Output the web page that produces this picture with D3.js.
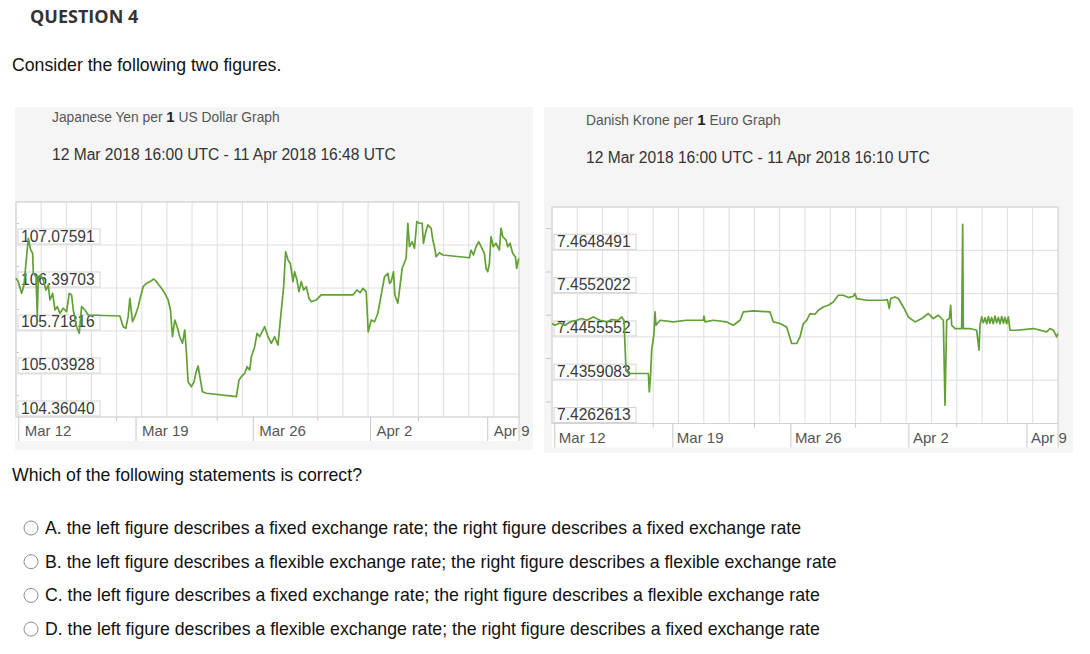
<!DOCTYPE html>
<html>
<head>
<meta charset="utf-8">
<title>Question 4</title>
<script src="https://d3js.org/d3.v7.min.js"></script>
<style>
body { margin: 0; background: #fff; }
svg text { font-family: Arial, "Liberation Sans", sans-serif; }
</style>
</head>
<body>
<div id="wrapper"></div>
<script>
// [days since 12 Mar 2018 16:00 UTC, rate]
var yenSeries = [[0,106.550],[0.139,106.497],[0.338,106.313],[0.477,106.444],[0.596,106.792],[0.735,107.182],[0.875,106.997],[0.994,106.945],[1.034,106.629],[1.193,106.575],
  [1.272,105.944],[1.332,106.575],[1.471,106.602],[1.630,106.523],[1.789,106.365],[1.928,106.444],[2.027,106.208],[2.187,106.313],[2.326,106.050],[2.465,106.102],
  [2.624,105.998],[2.823,106.077],[3.021,106.023],[3.180,106.313],[3.320,106.287],[3.419,106.050],[3.618,105.786],[3.777,105.682],[3.916,106.102],[4.115,106.050],
  [4.313,105.971],[6.202,105.955],[6.400,105.786],[6.559,105.761],[6.698,105.944],[6.798,106.234],[6.957,105.865],[7.096,105.944],[7.295,106.102],[7.434,106.260],
  [7.593,106.418],[7.792,106.471],[7.991,106.497],[8.229,106.539],[8.388,106.497],[8.686,106.392],[8.885,106.313],[9.084,106.208],[9.223,106.050],[9.342,105.628],
  [9.481,105.892],[9.620,105.786],[9.779,105.628],[9.938,105.524],[10.077,105.734],[10.177,105.366],[10.276,104.918],[10.475,104.839],[10.634,104.918],[10.733,105.050],
  [10.873,105.166],[11.012,104.945],[11.131,104.760],[11.370,104.735],[13.158,104.681],[13.317,104.945],[13.457,104.997],[13.655,105.050],[13.795,105.155],[13.954,105.102],
  [14.053,105.313],[14.252,105.470],[14.391,105.682],[14.550,105.628],[14.848,105.786],[15.047,105.628],[15.246,105.524],[15.444,105.628],
  [15.643,105.497],[15.842,106.050],[15.981,106.418],[16.100,106.970],[16.239,106.839],[16.378,106.787],[16.537,106.497],[16.637,106.654],[16.776,106.523],[16.895,106.339],
  [17.034,106.497],[17.174,106.365],[17.333,106.418],[17.491,106.234],[17.631,106.181],[17.929,106.208],[18.227,106.287],[20.115,106.287],[20.354,106.365],[20.552,106.323],
  [20.711,106.392],[20.910,106.339],[21.030,105.707],[21.209,105.892],[21.407,105.865],[21.606,105.998],[21.805,106.287],[22.004,106.575],[22.202,106.629],[22.302,106.471],
  [22.401,106.497],[22.540,106.654],[22.620,106.287],[22.799,106.156],[22.898,106.365],[23.057,106.708],[23.296,106.866],[23.395,107.419],[23.494,107.049],[23.653,107.128],
  [23.792,107.024],[23.932,107.444],[24.091,107.419],[24.250,107.419],[24.329,107.103],[24.449,107.261],[24.588,107.392],[24.787,107.340],[24.886,107.155],[24.985,107.049],
  [25.085,106.891],[25.283,106.954],[25.482,106.918],[27.072,106.875],[27.172,106.997],[27.311,106.918],[27.470,107.049],[27.629,107.128],[27.768,107.049],[27.967,106.945],
  [28.066,106.708],[28.165,106.654],[28.265,106.787],[28.364,107.207],[28.503,107.049],[28.662,107.103],[28.861,106.997],[28.961,107.340],[29.060,107.207],[29.259,107.155],
  [29.358,107.049],[29.497,107.103],[29.656,106.945],[29.815,106.891],[29.895,106.708],[30.014,106.866]];

var dkkSeries = [[0,7.44853],[0.178,7.44815],[0.474,7.44866],[0.771,7.44815],[1.067,7.44889],[1.463,7.44926],[1.759,7.44964],[2.056,7.44926],[2.451,7.45000],[2.846,7.44926],
  [3.242,7.44889],[3.538,7.44942],[3.934,7.44926],[4.131,7.45000],[4.270,7.44926],[4.388,7.43813],[4.527,7.43740],[5.219,7.43740],[5.713,7.43740],[5.772,7.43330],
  [5.851,7.43740],[5.911,7.44259],[6.049,7.44630],[6.108,7.45111],[6.167,7.44815],[6.405,7.44926],[7.195,7.44889],[7.986,7.44926],[8.974,7.44926],[9.014,7.45016],
  [9.073,7.44889],[9.567,7.44926],[10.358,7.44889],[10.753,7.44815],[11.149,7.44926],[11.346,7.45111],[11.939,7.45134],[12.928,7.45111],[13.125,7.44889],[13.521,7.44853],
  [13.916,7.44777],[14.213,7.44408],[14.509,7.44408],[14.707,7.44555],[14.904,7.44853],[15.102,7.44926],[15.300,7.45076],[15.596,7.45060],[15.794,7.45149],[16.090,7.45223],
  [16.387,7.45260],[16.683,7.45334],[16.980,7.45483],[17.276,7.45483],[17.573,7.45432],[17.869,7.45461],[17.968,7.45521],[18.067,7.45410],[18.660,7.45372],[19.649,7.45372],
  [19.886,7.45387],[20.004,7.45187],[20.083,7.45410],[20.340,7.45445],[20.538,7.45410],[20.835,7.45223],[21.131,7.45000],[21.527,7.44889],[21.922,7.44964],[22.317,7.45076],
  [22.614,7.44964],[22.910,7.45038],[23.207,7.44926],[23.306,7.43034],[23.405,7.44926],[23.563,7.44964],[23.642,7.45260],[23.701,7.44815],[23.899,7.44742],[24.294,7.44742],
  [24.354,7.47064],[24.393,7.44742],[24.788,7.44742],[25.184,7.44704],[25.322,7.44259],[25.381,7.44815],[25.480,7.45000],[25.580,7.44870],[25.680,7.44980],[25.780,7.44850],
  [25.880,7.45010],[25.970,7.44860],[26.070,7.44990],[26.170,7.44850],[26.270,7.45020],[26.370,7.44870],[26.470,7.44990],[26.570,7.44850],[26.670,7.45010],[26.770,7.44860],
  [26.860,7.44990],[26.960,7.44850],[27.060,7.45000],[27.160,7.44704],[27.556,7.44704],[28.544,7.44742],[29.335,7.44666],[29.532,7.44742],[29.730,7.44704],[29.927,7.44555],
  [30.0,7.44630]];

var yenTicks = [107.07591, 106.39703, 105.71816, 105.03928, 104.36040];
var dkkTicks = [7.4648491, 7.4552022, 7.4455552, 7.4359083, 7.4262613];
var weekLabels = ["Mar 12", "Mar 19", "Mar 26", "Apr 2", "Apr 9"];

var answers = [
  "A. the left figure describes a fixed exchange rate; the right figure describes a fixed exchange rate",
  "B. the left figure describes a flexible exchange rate; the right figure describes a flexible exchange rate",
  "C. the left figure describes a fixed exchange rate; the right figure describes a flexible exchange rate",
  "D. the left figure describes a flexible exchange rate; the right figure describes a fixed exchange rate"
];

var width = 1090, height = 654;
var start = Date.UTC(2018, 2, 12, 16, 0);
var DAY = 864e5;

var svg = d3.select("#wrapper").append("svg")
    .attr("width", width)
    .attr("height", height);

svg.append("rect").attr("width", width).attr("height", height).attr("fill", "#fff");

// question text
svg.append("text")
    .attr("x", 30).attr("y", 23)
    .style("font-family", "'Open Sans', sans-serif")
    .style("font-weight", "bold")
    .style("font-size", "18px")
    .attr("fill", "#333")
    .text("QUESTION 4");

svg.append("text")
    .attr("x", 12).attr("y", 71)
    .style("font-size", "17.7px")
    .attr("fill", "#111")
    .text("Consider the following two figures.");

svg.append("text")
    .attr("x", 12).attr("y", 481)
    .style("font-size", "17.7px")
    .attr("fill", "#111")
    .text("Which of the following statements is correct?");

var opt = svg.selectAll("g.opt")
    .data(answers)
    .enter()
    .append("g")
    .attr("class", "opt")
    .attr("transform", function(d, i) { return "translate(0," + (528 + i * 33.7) + ")"; });

opt.append("circle")
    .attr("cx", 31).attr("cy", 0).attr("r", 7)
    .attr("fill", "#fff").attr("stroke", "#8c8c8c").attr("stroke-width", 1);

opt.append("text")
    .attr("x", 45).attr("y", 6)
    .style("font-size", "17.7px")
    .attr("fill", "#111")
    .text(function(d) { return d; });

function drawChart(cfg) {
    var g = svg.append("g");

    // grey panel
    g.append("rect")
        .attr("x", cfg.panel[0]).attr("y", cfg.panel[1])
        .attr("width", cfg.panel[2]).attr("height", cfg.panel[3])
        .attr("fill", "#f5f5f5");

    // header
    var t = g.append("text")
        .attr("x", cfg.tx).attr("y", cfg.ty)
        .style("font-size", "13.8px")
        .attr("fill", "#555");
    t.append("tspan").text(cfg.title[0] + " ");
    t.append("tspan").style("font-weight", "bold").style("font-size", "15px").attr("fill", "#222").text("1");
    t.append("tspan").text(" " + cfg.title[1]);

    g.append("text")
        .attr("x", cfg.tx).attr("y", cfg.ty + 38)
        .style("font-size", "15.6px")
        .attr("fill", "#333")
        .text(cfg.range);

    var x0 = cfg.plot[0], y0 = cfg.plot[1], x1 = cfg.plot[2], y1 = cfg.plot[3];
    var ticks = cfg.ticks;
    var step = ticks[0] - ticks[1];

    var x = d3.scaleUtc().domain([new Date(start), new Date(cfg.end)]).range([x0, x1]);
    var y = d3.scaleLinear().domain([ticks[ticks.length - 1], ticks[0] + step]).range([y1, y0]);

    // white plot + label row
    g.append("rect")
        .attr("x", x0).attr("y", y0)
        .attr("width", x1 - x0).attr("height", y1 - y0 + 24)
        .attr("fill", "#fff");

    // vertical grid: 20 equal cells
    var vgrid = d3.range(21).map(function(i) { return x0 + (x1 - x0) * i / 20; });
    g.selectAll("line.vg")
        .data(vgrid)
        .enter()
        .append("line")
        .attr("x1", function(d) { return d; }).attr("x2", function(d) { return d; })
        .attr("y1", y0).attr("y2", y1)
        .attr("stroke", "#dedede").attr("stroke-width", 1);

    var hgrid = [ticks[0] + step].concat(ticks);
    g.selectAll("line.hg")
        .data(hgrid)
        .enter()
        .append("line")
        .attr("x1", x0).attr("x2", x1)
        .attr("y1", function(d) { return y(d); }).attr("y2", function(d) { return y(d); })
        .attr("stroke", "#dedede").attr("stroke-width", 1);

    // small dashes on the left at half steps
    g.selectAll("line.dash")
        .data(ticks.map(function(d) { return d + step / 2; }))
        .enter()
        .append("line")
        .attr("x1", cfg.dash[0]).attr("x2", cfg.dash[1])
        .attr("y1", function(d) { return y(d); }).attr("y2", function(d) { return y(d); })
        .attr("stroke", "#c8c8c8");

    g.append("rect")
        .attr("x", x0).attr("y", y0)
        .attr("width", x1 - x0).attr("height", y1 - y0)
        .attr("fill", "none").attr("stroke", "#d4d4d4");

    // value boxes
    var lab = g.selectAll("g.lab")
        .data(ticks)
        .enter()
        .append("g");
    lab.append("rect")
        .attr("x", x0 + 2).attr("y", function(d) { return y(d) - 16; })
        .attr("width", 82).attr("height", 15)
        .attr("fill", "#fff").attr("stroke", "#d4d4d4");
    lab.append("text")
        .attr("x", x0 + 5).attr("y", function(d) { return y(d) - 3.5; })
        .style("font-size", "15.6px")
        .attr("fill", "#3a3a3a")
        .text(function(d) { return d.toFixed(cfg.digits); });

    // x axis: minor ticks, weekly ticks and labels
    g.selectAll("line.minor")
        .data(vgrid.filter(function(d, i) { return i % 4 === 0 && i > 0 && i < 20; }))
        .enter()
        .append("line")
        .attr("x1", function(d) { return d; }).attr("x2", function(d) { return d; })
        .attr("y1", y1).attr("y2", y1 + 4)
        .attr("stroke", "#c8c8c8");

    var weeks = weekLabels.map(function(d, i) {
        return { label: d, date: new Date(Date.UTC(2018, 2, 12, 20) + i * 7 * DAY) };
    });
    g.selectAll("line.week")
        .data(weeks)
        .enter()
        .append("line")
        .attr("x1", function(d) { return x(d.date); }).attr("x2", function(d) { return x(d.date); })
        .attr("y1", y1).attr("y2", y1 + 24)
        .attr("stroke", "#c8c8c8");
    g.selectAll("text.week")
        .data(weeks)
        .enter()
        .append("text")
        .attr("x", function(d) { return x(d.date) + cfg.labelDx; })
        .attr("y", y1 + 19)
        .style("font-size", "15px")
        .attr("fill", "#555")
        .text(function(d) { return d.label; });
    g.append("line")
        .attr("x1", x1).attr("x2", x1)
        .attr("y1", y1).attr("y2", y1 + 24)
        .attr("stroke", "#c8c8c8");

    var line = d3.line()
        .x(function(d) { return x(new Date(start + d[0] * DAY)); })
        .y(function(d) { return y(d[1]); });

    g.append("path")
        .datum(cfg.series)
        .attr("d", line)
        .attr("fill", "none")
        .attr("stroke", "#62a035")
        .attr("stroke-width", 1.7)
        .attr("stroke-linejoin", "round");
}

drawChart({
    panel: [15, 107, 518, 343],
    tx: 52, ty: 122,
    title: ["Japanese Yen per", "US Dollar Graph"],
    range: "12 Mar 2018 16:00 UTC - 11 Apr 2018 16:48 UTC",
    plot: [16, 202, 519, 417],
    dash: [16, 19],
    labelDx: 6,
    end: Date.UTC(2018, 3, 11, 16, 48),
    ticks: yenTicks,
    digits: 5,
    series: yenSeries
});

drawChart({
    panel: [544, 107, 529, 346],
    tx: 586, ty: 125,
    title: ["Danish Krone per", "Euro Graph"],
    range: "12 Mar 2018 16:00 UTC - 11 Apr 2018 16:10 UTC",
    plot: [552, 207, 1058, 423.5],
    dash: [546, 551],
    labelDx: 4,
    end: Date.UTC(2018, 3, 11, 16, 10),
    ticks: dkkTicks,
    digits: 7,
    series: dkkSeries
});
</script>
</body>
</html>
